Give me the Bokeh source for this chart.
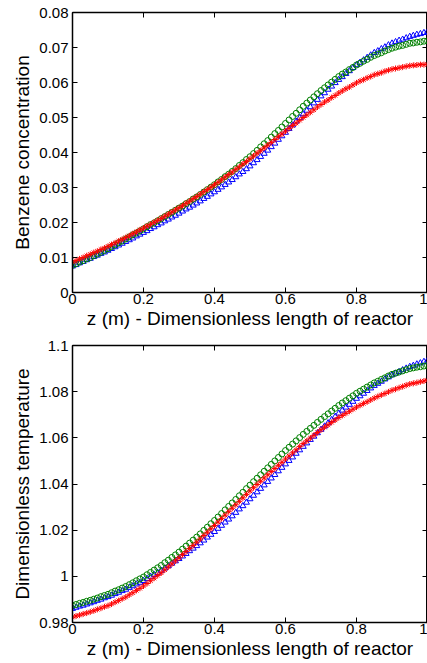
from bokeh.plotting import figure
from bokeh.layouts import column
from bokeh.models import LinearAxis, FixedTicker, Range1d
from bokeh.embed import file_html
from bokeh.resources import INLINE

# ---------------- data ----------------
z = [round(i * 0.01, 2) for i in range(101)]

conc_blue = [
    0.0075, 0.0079, 0.0084, 0.0088, 0.0093,
    0.0097, 0.0102, 0.0106, 0.0111, 0.0115,
    0.0120, 0.0125, 0.0130, 0.0135, 0.0140,
    0.0145, 0.0150, 0.0155, 0.0161, 0.0166,
    0.0171, 0.0176, 0.0182, 0.0187, 0.0193,
    0.0198, 0.0204, 0.0209, 0.0215, 0.0220,
    0.0226, 0.0232, 0.0238, 0.0243, 0.0249,
    0.0255, 0.0261, 0.0268, 0.0274, 0.0281,
    0.0287, 0.0294, 0.0301, 0.0308, 0.0315,
    0.0322, 0.0330, 0.0338, 0.0345, 0.0353,
    0.0361, 0.0370, 0.0379, 0.0388, 0.0397,
    0.0406, 0.0416, 0.0426, 0.0437, 0.0447,
    0.0457, 0.0468, 0.0478, 0.0489, 0.0499,
    0.0510, 0.0520, 0.0530, 0.0541, 0.0551,
    0.0561, 0.0570, 0.0580, 0.0589, 0.0599,
    0.0608, 0.0616, 0.0625, 0.0633, 0.0642,
    0.0650, 0.0657, 0.0664, 0.0671, 0.0678,
    0.0685, 0.0690, 0.0696, 0.0701, 0.0707,
    0.0712, 0.0716, 0.0720, 0.0723, 0.0727,
    0.0731, 0.0734, 0.0737, 0.0739, 0.0742,
    0.0745,
]
conc_green = [
    0.0078, 0.0082, 0.0087, 0.0091, 0.0096,
    0.0100, 0.0105, 0.0110, 0.0115, 0.0120,
    0.0125, 0.0131, 0.0136, 0.0142, 0.0147,
    0.0153, 0.0159, 0.0165, 0.0170, 0.0176,
    0.0182, 0.0188, 0.0194, 0.0199, 0.0205,
    0.0211, 0.0217, 0.0223, 0.0229, 0.0235,
    0.0241, 0.0247, 0.0254, 0.0260, 0.0267,
    0.0273, 0.0280, 0.0287, 0.0294, 0.0301,
    0.0308, 0.0316, 0.0323, 0.0331, 0.0338,
    0.0346, 0.0354, 0.0363, 0.0371, 0.0380,
    0.0388, 0.0397, 0.0406, 0.0416, 0.0425,
    0.0434, 0.0444, 0.0454, 0.0463, 0.0473,
    0.0483, 0.0493, 0.0503, 0.0512, 0.0522,
    0.0532, 0.0541, 0.0550, 0.0559, 0.0568,
    0.0577, 0.0585, 0.0593, 0.0601, 0.0609,
    0.0617, 0.0624, 0.0630, 0.0637, 0.0643,
    0.0650, 0.0655, 0.0661, 0.0666, 0.0672,
    0.0677, 0.0681, 0.0685, 0.0690, 0.0694,
    0.0698, 0.0701, 0.0704, 0.0706, 0.0709,
    0.0712, 0.0713, 0.0715, 0.0716, 0.0718,
    0.0719,
]
conc_red = [
    0.0087, 0.0091, 0.0096, 0.0100, 0.0105,
    0.0109, 0.0114, 0.0118, 0.0123, 0.0127,
    0.0132, 0.0137, 0.0142, 0.0147, 0.0152,
    0.0157, 0.0162, 0.0168, 0.0173, 0.0179,
    0.0184, 0.0190, 0.0195, 0.0201, 0.0206,
    0.0212, 0.0218, 0.0224, 0.0230, 0.0236,
    0.0242, 0.0248, 0.0255, 0.0261, 0.0268,
    0.0274, 0.0281, 0.0288, 0.0294, 0.0301,
    0.0308, 0.0315, 0.0322, 0.0330, 0.0337,
    0.0344, 0.0352, 0.0359, 0.0367, 0.0374,
    0.0382, 0.0390, 0.0398, 0.0405, 0.0413,
    0.0421, 0.0429, 0.0437, 0.0445, 0.0453,
    0.0461, 0.0469, 0.0477, 0.0484, 0.0492,
    0.0500, 0.0507, 0.0515, 0.0522, 0.0530,
    0.0537, 0.0544, 0.0550, 0.0557, 0.0563,
    0.0570, 0.0576, 0.0582, 0.0587, 0.0593,
    0.0599, 0.0604, 0.0608, 0.0613, 0.0617,
    0.0622, 0.0625, 0.0628, 0.0632, 0.0635,
    0.0638, 0.0640, 0.0642, 0.0644, 0.0646,
    0.0648, 0.0649, 0.0650, 0.0651, 0.0651,
    0.0652,
]

temp_blue = [
    0.9860, 0.9865, 0.9870, 0.9874, 0.9879,
    0.9884, 0.9889, 0.9895, 0.9900, 0.9906,
    0.9911, 0.9917, 0.9924, 0.9930, 0.9937,
    0.9943, 0.9951, 0.9958, 0.9966, 0.9973,
    0.9981, 0.9990, 0.9999, 1.0007, 1.0016,
    1.0025, 1.0035, 1.0045, 1.0056, 1.0066,
    1.0076, 1.0087, 1.0098, 1.0110, 1.0121,
    1.0132, 1.0144, 1.0156, 1.0169, 1.0181,
    1.0193, 1.0207, 1.0220, 1.0234, 1.0247,
    1.0261, 1.0276, 1.0291, 1.0305, 1.0320,
    1.0335, 1.0350, 1.0365, 1.0380, 1.0395,
    1.0410, 1.0425, 1.0440, 1.0456, 1.0471,
    1.0486, 1.0501, 1.0516, 1.0532, 1.0547,
    1.0562, 1.0577, 1.0592, 1.0606, 1.0621,
    1.0636, 1.0650, 1.0664, 1.0678, 1.0692,
    1.0706, 1.0719, 1.0732, 1.0744, 1.0757,
    1.0770, 1.0781, 1.0792, 1.0804, 1.0815,
    1.0826, 1.0835, 1.0844, 1.0854, 1.0863,
    1.0872, 1.0879, 1.0886, 1.0894, 1.0901,
    1.0908, 1.0913, 1.0919, 1.0924, 1.0930,
    1.0935,
]
temp_green = [
    0.9874, 0.9878, 0.9883, 0.9887, 0.9892,
    0.9896, 0.9901, 0.9906, 0.9912, 0.9917,
    0.9922, 0.9929, 0.9936, 0.9942, 0.9949,
    0.9956, 0.9964, 0.9972, 0.9981, 0.9989,
    0.9997, 1.0007, 1.0017, 1.0027, 1.0037,
    1.0047, 1.0059, 1.0070, 1.0082, 1.0093,
    1.0105, 1.0118, 1.0131, 1.0144, 1.0157,
    1.0170, 1.0184, 1.0199, 1.0213, 1.0228,
    1.0242, 1.0257, 1.0272, 1.0288, 1.0303,
    1.0318, 1.0333, 1.0349, 1.0364, 1.0380,
    1.0395, 1.0410, 1.0425, 1.0440, 1.0455,
    1.0470, 1.0485, 1.0500, 1.0515, 1.0530,
    1.0545, 1.0559, 1.0573, 1.0587, 1.0601,
    1.0615, 1.0628, 1.0641, 1.0654, 1.0667,
    1.0680, 1.0692, 1.0704, 1.0716, 1.0728,
    1.0740, 1.0751, 1.0761, 1.0772, 1.0782,
    1.0793, 1.0802, 1.0811, 1.0820, 1.0829,
    1.0838, 1.0845, 1.0853, 1.0860, 1.0868,
    1.0875, 1.0880, 1.0885, 1.0890, 1.0895,
    1.0900, 1.0903, 1.0906, 1.0908, 1.0911,
    1.0914,
]
temp_red = [
    0.9823, 0.9828, 0.9832, 0.9837, 0.9841,
    0.9846, 0.9851, 0.9857, 0.9862, 0.9868,
    0.9873, 0.9880, 0.9888, 0.9895, 0.9903,
    0.9910, 0.9920, 0.9929, 0.9939, 0.9948,
    0.9958, 0.9969, 0.9981, 0.9992, 1.0004,
    1.0015, 1.0028, 1.0041, 1.0054, 1.0067,
    1.0080, 1.0094, 1.0107, 1.0121, 1.0134,
    1.0148, 1.0162, 1.0177, 1.0191, 1.0206,
    1.0220, 1.0235, 1.0250, 1.0265, 1.0280,
    1.0295, 1.0310, 1.0325, 1.0340, 1.0355,
    1.0370, 1.0384, 1.0398, 1.0412, 1.0426,
    1.0440, 1.0454, 1.0467, 1.0481, 1.0494,
    1.0508, 1.0521, 1.0535, 1.0548, 1.0562,
    1.0575, 1.0587, 1.0599, 1.0611, 1.0623,
    1.0635, 1.0646, 1.0656, 1.0667, 1.0677,
    1.0688, 1.0697, 1.0706, 1.0715, 1.0724,
    1.0733, 1.0741, 1.0749, 1.0756, 1.0764,
    1.0772, 1.0779, 1.0786, 1.0792, 1.0799,
    1.0806, 1.0811, 1.0817, 1.0822, 1.0828,
    1.0833, 1.0836, 1.0839, 1.0843, 1.0846,
    1.0849,
]

x_ticks = [0, 0.2, 0.4, 0.6, 0.8, 1]
x_tick_labels = ["0", "0.2", "0.4", "0.6", "0.8", "1"]
conc_ticks = [0, 0.01, 0.02, 0.03, 0.04, 0.05, 0.06, 0.07, 0.08]
conc_tick_labels = ["0", "0.01", "0.02", "0.03", "0.04", "0.05", "0.06", "0.07", "0.08"]
temp_ticks = [0.98, 1.0, 1.02, 1.04, 1.06, 1.08, 1.1]
temp_tick_labels = ["0.98", "1", "1.02", "1.04", "1.06", "1.08", "1.1"]

x_label = "z (m) - Dimensionless length of reactor"
FONT = "Liberation Sans"


def style_axis(ax, ticks, labels, show_labels=True, standoff=3):
    ax.ticker = FixedTicker(ticks=ticks)
    ax.major_tick_in = 5
    ax.major_tick_out = 0
    ax.minor_tick_in = 0
    ax.minor_tick_out = 0
    ax.axis_line_color = "black"
    ax.axis_line_width = 1.5
    ax.major_tick_line_color = "black"
    ax.major_tick_line_width = 1
    ax.major_label_text_font = FONT
    if show_labels:
        ax.major_label_overrides = {t: l for t, l in zip(ticks, labels)}
        ax.major_label_text_color = "black"
        ax.major_label_text_font_size = "15px"
        ax.major_label_standoff = standoff
    else:
        ax.major_label_text_color = None
        ax.major_label_text_alpha = 0
        ax.major_label_text_font_size = "0px"
        ax.major_label_standoff = 0
        ax.axis_label = None
        ax.axis_label_standoff = 0
    ax.axis_label_text_font = FONT
    ax.axis_label_text_font_size = "19px"
    ax.axis_label_text_font_style = "normal"
    ax.axis_label_text_color = "black"


def make_fig(height, top, bottom, y0, y1, yticks, ylabels, ylabel, yb, yg, yr):
    p = figure(width=427, height=height, output_backend="svg", toolbar_location=None,
               x_range=Range1d(0, 1), y_range=Range1d(y0, y1),
               min_border_left=72, min_border_right=0,
               min_border_top=top, min_border_bottom=bottom)
    p.grid.visible = False
    p.outline_line_color = "black"
    p.outline_line_width = 1
    p.background_fill_color = "white"
    p.border_fill_color = "white"

    style_axis(p.xaxis[0], x_ticks, x_tick_labels, standoff=1)
    p.xaxis[0].axis_label = x_label
    p.xaxis[0].axis_label_standoff = 1
    style_axis(p.yaxis[0], yticks, ylabels, standoff=4)
    p.yaxis[0].axis_label = ylabel
    p.yaxis[0].axis_label_standoff = 3

    top_ax = LinearAxis()
    style_axis(top_ax, x_ticks, x_tick_labels, show_labels=False)
    p.add_layout(top_ax, "above")
    right_ax = LinearAxis()
    style_axis(right_ax, yticks, ylabels, show_labels=False)
    p.add_layout(right_ax, "right")

    p.scatter(z, yb, marker="triangle", size=6, fill_color=None,
              line_color="#0000ff", line_width=1)
    p.scatter(z, yg, marker="circle", size=6, fill_color=None,
              line_color="#008000", line_width=1)
    p.scatter(z, yr, marker="asterisk", size=6, fill_color=None,
              line_color="#ff0000", line_width=1)
    return p


p1 = make_fig(334, 12, 42, 0, 0.08, conc_ticks, conc_tick_labels,
              "Benzene concentration", conc_blue, conc_green, conc_red)
p2 = make_fig(329, 11, 41, 0.98, 1.1, temp_ticks, temp_tick_labels,
              "Dimensionless temperature", temp_blue, temp_green, temp_red)

layout = column(p1, p2, spacing=0)
open("out.html", "w").write(file_html(layout, INLINE))
